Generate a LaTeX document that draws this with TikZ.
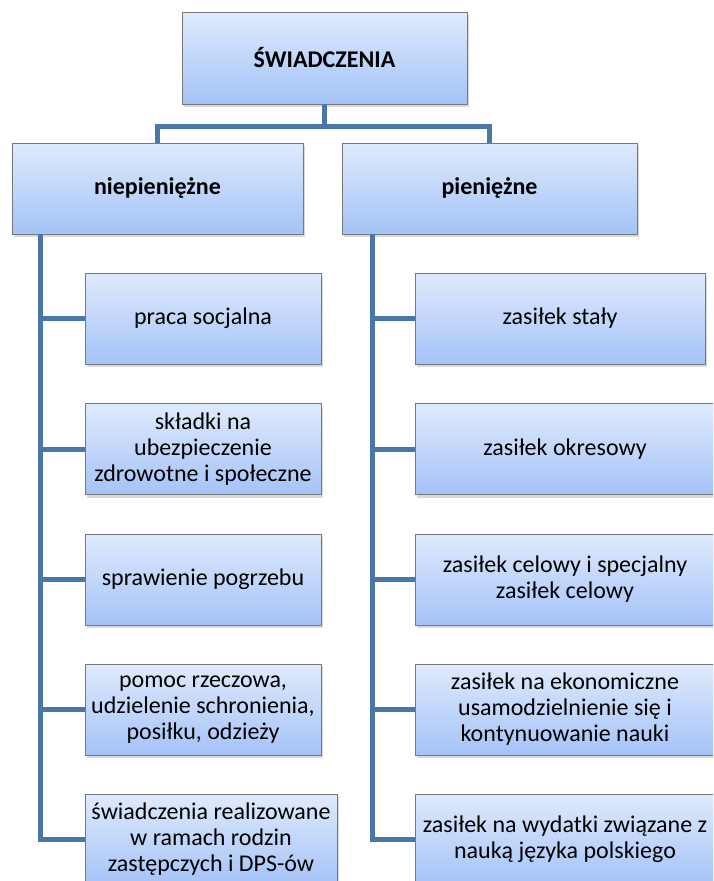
\documentclass[tikz,border=0pt]{standalone}
\usepackage{fontspec}
\setmainfont{Carlito}
\usetikzlibrary{shadows}
\definecolor{conncol}{RGB}{74,118,168}
\definecolor{boxtop}{RGB}{223,234,252}
\definecolor{boxbot}{RGB}{164,195,248}
\definecolor{boxline}{RGB}{120,120,120}
\begin{document}
\begin{tikzpicture}[x=1pt,y=-1pt,
  box/.style={draw=boxline, line width=0.8pt, top color=boxtop, bottom color=boxbot,
    align=center, font=\fontsize{24}{26}\selectfont, inner sep=2pt,
    drop shadow={shadow xshift=2pt, shadow yshift=-3pt, opacity=0.3}},
  head/.style={box, font=\fontsize{24}{26}\selectfont\bfseries},
  lleaf/.style={box, minimum width=236pt, minimum height=91pt},
  rleaf/.style={box, minimum width=300pt, minimum height=91pt},
  conn/.style={draw=conncol, line width=5pt}]
\useasboundingbox (0,0) rectangle (713,881);
\clip (0,0) rectangle (713,881);
% nodes
\node[head, minimum width=285pt, minimum height=92pt] (top) at (324.5,58) {ŚWIADCZENIA};
\node[head, minimum width=291pt, minimum height=91pt] (lc) at (157.5,188.5) {niepieniężne};
\node[head, minimum width=295pt, minimum height=91pt] (rc) at (489.5,188.5) {pieniężne};
\node[lleaf] (l1) at (203,318.5) {praca socjalna};
\node[lleaf] (l2) at (203,449) {składki na\\ubezpieczenie\\zdrowotne i społeczne};
\node[lleaf] (l3) at (203,579.5) {sprawienie pogrzebu};
\node[lleaf] (l4) at (203,709.5) {pomoc rzeczowa,\\udzielenie schronienia,\\posiłku, odzieży};
\node[lleaf, minimum width=252pt] (l5) at (211,839.5) {świadczenia realizowane\\w ramach rodzin\\zastępczych i DPS-ów};
\node[rleaf, minimum width=290pt] (r1) at (560,318.5) {zasiłek stały};
\node[rleaf] (r2) at (565,449) {zasiłek okresowy};
\node[rleaf] (r3) at (565,579.5) {zasiłek celowy i specjalny\\zasiłek celowy};
\node[rleaf] (r4) at (565,709.5) {zasiłek na ekonomiczne\\usamodzielnienie się i\\kontynuowanie nauki};
\node[rleaf] (r5) at (565,839.5) {zasiłek na wydatki związane z\\nauką języka polskiego};
% connectors
\coordinate (tj) at (324.5,126);
\draw[conn] (top.south) -- (tj);
\draw[conn] (lc.north) -- (lc.north |- tj) -- (rc.north |- tj) -- (rc.north);
\coordinate (lt) at ([xshift=29pt]lc.south west);
\coordinate (rt) at ([xshift=31pt]rc.south west);
\draw[conn] (lt) |- (l5.west);
\foreach \n in {l1,l2,l3,l4} \draw[conn] (\n.west) -- (\n.west -| lt);
\draw[conn] (rt) |- (r5.west);
\foreach \n in {r1,r2,r3,r4} \draw[conn] (\n.west) -- (\n.west -| rt);
\end{tikzpicture}
\end{document}
